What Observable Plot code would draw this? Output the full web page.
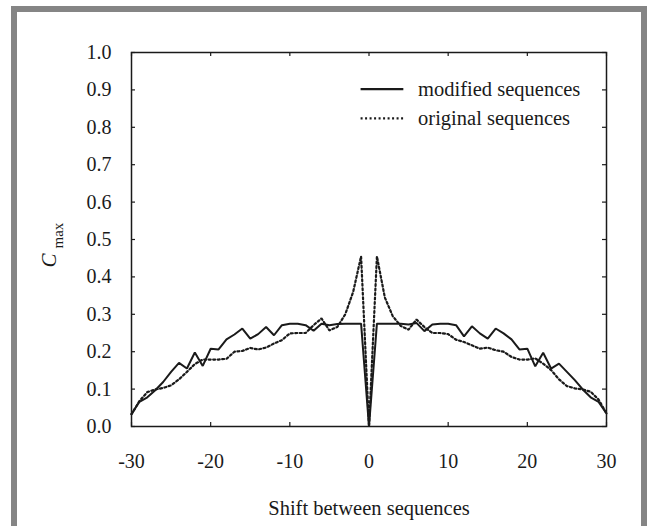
<!DOCTYPE html>
<html>
<head>
<meta charset="utf-8">
<script src="https://cdn.jsdelivr.net/npm/d3@7"></script>
<script src="https://cdn.jsdelivr.net/npm/@observablehq/plot@0.6"></script>
<style>
  html, body { margin: 0; padding: 0; background: #fff; }
  #wrap { position: relative; width: 649px; height: 526px; overflow: hidden; }
  #frame { position: absolute; left: 11px; top: 6px; width: 624px; height: 600px; border: 6px solid #858585; }
  #chart { position: absolute; left: 0; top: 0; }
</style>
</head>
<body>
<div id="wrap"><div id="frame"></div><div id="chart"></div></div>
<script>
const shifts = d3.range(-30, 31);
const modified = [
  0.033, 0.066, 0.078, 0.097, 0.119, 0.146, 0.170, 0.155, 0.198, 0.162,
  0.208, 0.206, 0.233, 0.246, 0.262, 0.235, 0.247, 0.266, 0.244, 0.271,
  0.275, 0.275, 0.271, 0.256, 0.275, 0.271, 0.274, 0.275, 0.275, 0.275,
  0.000,
  0.275, 0.275, 0.275, 0.275, 0.273, 0.277, 0.255, 0.273, 0.275, 0.275,
  0.271, 0.241, 0.268, 0.249, 0.235, 0.262, 0.249, 0.233, 0.206, 0.208,
  0.161, 0.197, 0.155, 0.168, 0.146, 0.124, 0.099, 0.078, 0.066, 0.035
];
const original = [
  0.033, 0.068, 0.092, 0.099, 0.103, 0.110, 0.126, 0.146, 0.167, 0.179,
  0.179, 0.179, 0.181, 0.200, 0.202, 0.210, 0.206, 0.211, 0.222, 0.231,
  0.249, 0.250, 0.250, 0.271, 0.289, 0.257, 0.266, 0.300, 0.360, 0.455,
  0.000,
  0.455, 0.345, 0.295, 0.269, 0.259, 0.286, 0.266, 0.250, 0.250, 0.247,
  0.232, 0.226, 0.217, 0.208, 0.211, 0.204, 0.200, 0.186, 0.179, 0.179,
  0.182, 0.168, 0.151, 0.126, 0.108, 0.102, 0.099, 0.093, 0.072, 0.035
];
const xTicks = [-30, -20, -10, 0, 10, 20, 30];
const yTicks = [0, 0.1, 0.2, 0.3, 0.4, 0.5, 0.6, 0.7, 0.8, 0.9, 1.0];
const seriesNames = ["modified sequences", "original sequences"];
const xTitle = "Shift between sequences";

const modData = shifts.map((s, i) => ({s, v: modified[i]}));
const origData = shifts.map((s, i) => ({s, v: original[i]}));

const ink = "#1a1a1a";
const dots = "2,2.5";
const tx = 4 / 7.907, ty = 4 / 374;

const plot = Plot.plot({
  width: 649,
  height: 526,
  marginLeft: 131,
  marginRight: 43,
  marginTop: 52,
  marginBottom: 100,
  style: {fontFamily: "'Liberation Serif', 'DejaVu Serif', serif", fontSize: "20px", color: ink, background: "transparent"},
  x: {domain: [-30, 30]},
  y: {domain: [0, 1]},
  marks: [
    Plot.axisX({ticks: xTicks, tickSize: 0, tickPadding: 27, tickFormat: d => String(d), label: null}),
    Plot.axisY({ticks: yTicks, tickSize: 0, tickPadding: 20, tickFormat: d => d.toFixed(1), label: null}),
    Plot.ruleX(xTicks, {x: d => d, y1: 0, y2: ty, stroke: ink, strokeWidth: 1.2}),
    Plot.ruleX(xTicks, {x: d => d, y1: 1, y2: 1 - ty, stroke: ink, strokeWidth: 1.2}),
    Plot.ruleY(yTicks, {y: d => d, x1: -30, x2: -30 + tx, stroke: ink, strokeWidth: 1.2}),
    Plot.ruleY(yTicks, {y: d => d, x1: 30, x2: 30 - tx, stroke: ink, strokeWidth: 1.2}),
    Plot.line(origData, {x: "s", y: "v", stroke: ink, strokeWidth: 2.2, strokeDasharray: dots, strokeLinejoin: "miter"}),
    Plot.line(modData, {x: "s", y: "v", stroke: ink, strokeWidth: 2, strokeLinejoin: "miter"}),
    Plot.frame({stroke: ink, strokeWidth: 1.5}),
    // legend
    Plot.ruleY([0.902], {x1: -1, x2: 4.4, stroke: ink, strokeWidth: 2.2}),
    Plot.ruleY([0.824], {x1: -1, x2: 4.4, stroke: ink, strokeWidth: 2.2, strokeDasharray: dots}),
    Plot.text([seriesNames[0]], {x: 6.2, y: 0.902, text: d => d, textAnchor: "start", fill: ink, fontSize: 20.5}),
    Plot.text([seriesNames[1]], {x: 6.2, y: 0.824, text: d => d, textAnchor: "start", fill: ink, fontSize: 20.5}),
    // x title
    Plot.text([xTitle], {frameAnchor: "bottom", dy: 88, text: d => d, fill: ink, fontSize: 20.5}),
    // y title: C with subscript max
    Plot.text(["C"], {frameAnchor: "left", dx: -82, dy: 28, rotate: -90, text: d => d, fill: ink, fontSize: 21, fontStyle: "italic"}),
    Plot.text(["max"], {frameAnchor: "left", dx: -73, dy: 9, rotate: -90, text: d => d, fill: ink, fontSize: 15})
  ]
});
document.getElementById("chart").appendChild(plot);
</script>
</body>
</html>
